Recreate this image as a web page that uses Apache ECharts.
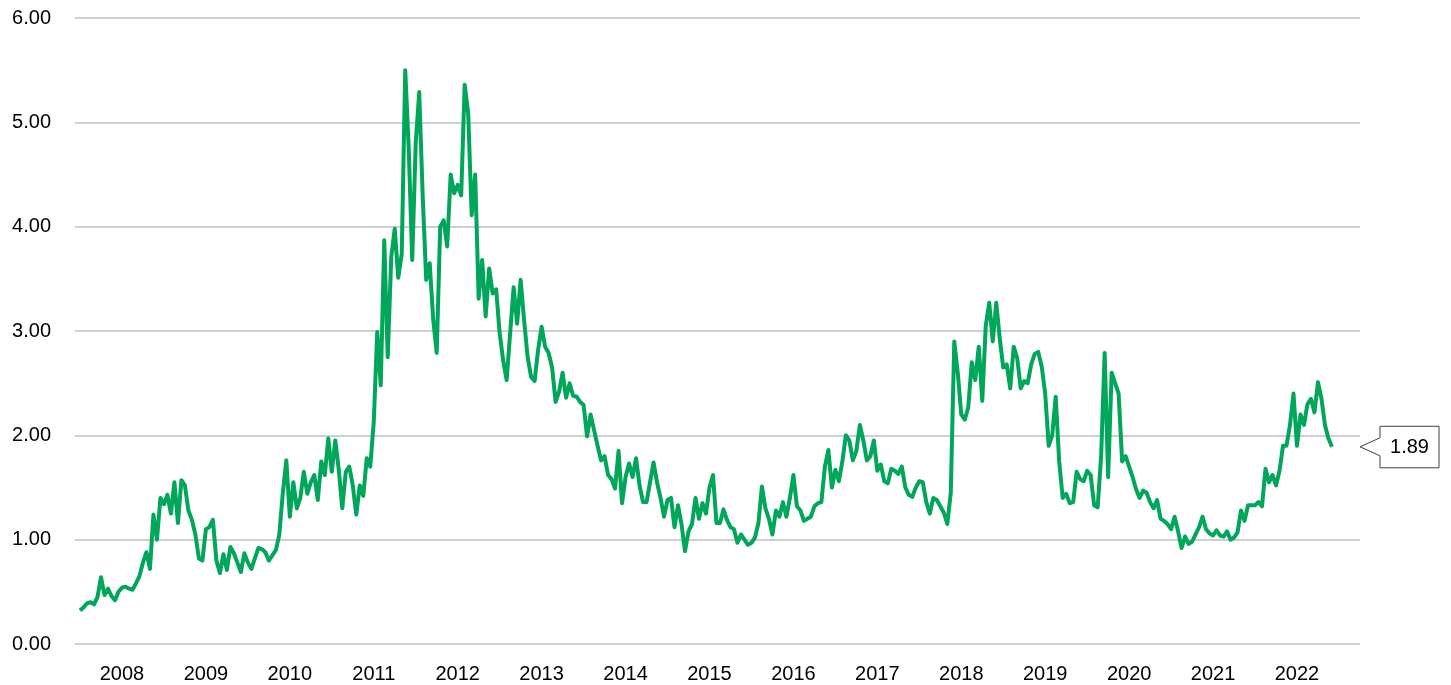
<!DOCTYPE html>
<html>
<head>
<meta charset="utf-8">
<script src="https://cdn.jsdelivr.net/npm/echarts@6/dist/echarts.min.js"></script>
<style>
  html, body { margin: 0; padding: 0; background: #fff; }
  .line .chart { width: 1451px; height: 685px; }
</style>
</head>
<body>
<div class="line"><div class="chart"></div></div>
<script>
// 年份（横轴标签）
var years = [2008, 2009, 2010, 2011, 2012, 2013, 2014, 2015, 2016, 2017, 2018, 2019, 2020, 2021, 2022];
// 纵轴刻度
var yTicks = [0, 1, 2, 3, 4, 5, 6];
// 每年 24 个半月数据点
var v2008 = [0.32, 0.35, 0.39, 0.40, 0.38, 0.45, 0.64, 0.47, 0.53, 0.46, 0.42, 0.50, 0.54, 0.55, 0.53, 0.52, 0.58, 0.65, 0.78, 0.88, 0.72, 1.24, 1.00, 1.40];
var v2009 = [1.34, 1.43, 1.25, 1.55, 1.16, 1.57, 1.52, 1.28, 1.19, 1.05, 0.82, 0.80, 1.10, 1.12, 1.19, 0.80, 0.68, 0.86, 0.71, 0.93, 0.87, 0.78, 0.69, 0.87];
var v2010 = [0.78, 0.72, 0.82, 0.92, 0.91, 0.88, 0.80, 0.85, 0.90, 1.05, 1.45, 1.76, 1.22, 1.55, 1.30, 1.40, 1.65, 1.44, 1.55, 1.62, 1.38, 1.75, 1.62, 1.97];
var v2011 = [1.65, 1.95, 1.67, 1.30, 1.65, 1.70, 1.52, 1.24, 1.52, 1.42, 1.78, 1.70, 2.13, 2.99, 2.48, 3.87, 2.75, 3.71, 3.98, 3.51, 3.74, 5.50, 4.75, 3.68];
var v2012 = [4.80, 5.29, 4.29, 3.49, 3.65, 3.11, 2.79, 4.00, 4.06, 3.81, 4.50, 4.32, 4.40, 4.30, 5.36, 5.09, 4.11, 4.50, 3.31, 3.68, 3.14, 3.60, 3.36, 3.40];
var v2013 = [2.98, 2.72, 2.53, 2.98, 3.42, 3.07, 3.49, 3.10, 2.75, 2.56, 2.52, 2.82, 3.04, 2.85, 2.79, 2.65, 2.32, 2.42, 2.60, 2.36, 2.50, 2.38, 2.37, 2.32];
var v2014 = [2.29, 1.99, 2.20, 2.05, 1.90, 1.76, 1.80, 1.62, 1.58, 1.49, 1.85, 1.35, 1.60, 1.73, 1.60, 1.78, 1.52, 1.36, 1.36, 1.55, 1.74, 1.55, 1.40, 1.22];
var v2015 = [1.38, 1.40, 1.12, 1.33, 1.15, 0.89, 1.08, 1.15, 1.40, 1.20, 1.35, 1.25, 1.50, 1.62, 1.16, 1.16, 1.29, 1.19, 1.12, 1.10, 0.97, 1.05, 1.00, 0.95];
var v2016 = [0.97, 1.02, 1.16, 1.51, 1.30, 1.20, 1.05, 1.28, 1.22, 1.36, 1.22, 1.40, 1.62, 1.32, 1.28, 1.18, 1.20, 1.22, 1.32, 1.35, 1.36, 1.70, 1.86, 1.50];
var v2017 = [1.67, 1.56, 1.75, 2.00, 1.95, 1.76, 1.85, 2.10, 1.95, 1.76, 1.80, 1.95, 1.66, 1.72, 1.56, 1.54, 1.68, 1.66, 1.63, 1.70, 1.50, 1.43, 1.41, 1.50];
var v2018 = [1.56, 1.55, 1.36, 1.25, 1.40, 1.38, 1.32, 1.26, 1.15, 1.45, 2.90, 2.60, 2.20, 2.15, 2.27, 2.70, 2.53, 2.85, 2.33, 3.05, 3.27, 2.90, 3.27, 2.93];
var v2019 = [2.65, 2.68, 2.45, 2.85, 2.74, 2.45, 2.52, 2.50, 2.68, 2.78, 2.80, 2.66, 2.40, 1.90, 2.00, 2.37, 1.75, 1.40, 1.44, 1.35, 1.36, 1.65, 1.58, 1.56];
var v2020 = [1.66, 1.62, 1.33, 1.31, 1.80, 2.79, 1.60, 2.60, 2.50, 2.40, 1.75, 1.80, 1.70, 1.60, 1.48, 1.40, 1.47, 1.45, 1.36, 1.30, 1.38, 1.20, 1.18, 1.15];
var v2021 = [1.10, 1.22, 1.08, 0.92, 1.03, 0.96, 0.98, 1.05, 1.12, 1.22, 1.10, 1.06, 1.04, 1.09, 1.04, 1.03, 1.08, 1.00, 1.02, 1.07, 1.28, 1.18, 1.33, 1.33];
var v2022 = [1.33, 1.36, 1.32, 1.68, 1.55, 1.62, 1.52, 1.66, 1.90, 1.90, 2.10, 2.40, 1.90, 2.20, 2.10, 2.30, 2.35, 2.22, 2.51, 2.35, 2.10, 1.97, 1.89];

(function() {
  var myChart = echarts.init(document.querySelector(".line .chart"));
  var font = "'Liberation Sans', Arial, sans-serif";

  // 拼成 [年份, 数值]
  var yearValues = [v2008, v2009, v2010, v2011, v2012, v2013, v2014, v2015, v2016, v2017, v2018, v2019, v2020, v2021, v2022];
  var seriesData = [];
  yearValues.forEach(function(arr, k) {
    arr.forEach(function(v, j) {
      seriesData.push([years[k] + j / 24, v]);
    });
  });
  var lastValue = seriesData[seriesData.length - 1][1];

  var xMin = 2007.9404;
  var xMax = 2023.2508;

  var option = {
    animation: false,
    grid: {
      left: 75,
      right: 91,
      top: 18,
      bottom: 41
    },
    xAxis: {
      type: "value",
      min: xMin,
      max: xMax,
      splitLine: { show: false },
      axisLine: { show: false },
      axisTick: { show: false },
      axisLabel: {
        // 标签放在每年的中间
        customValues: years.map(function(y) { return y + 0.5; }),
        formatter: function(v) { return String(Math.floor(v)); },
        color: "#000",
        fontSize: 20,
        fontFamily: font,
        margin: 20
      }
    },
    yAxis: {
      type: "value",
      min: yTicks[0],
      max: yTicks[yTicks.length - 1],
      interval: 1,
      axisLine: { show: false },
      axisTick: { show: false },
      axisLabel: {
        formatter: function(v) { return v.toFixed(2); },
        color: "#000",
        fontSize: 20,
        fontFamily: font,
        margin: 24
      },
      splitLine: {
        lineStyle: {
          color: "#bfbfbf",
          width: 1.5
        }
      }
    },
    series: [
      {
        type: "line",
        data: seriesData,
        showSymbol: false,
        symbol: "none",
        lineStyle: {
          color: "#00a65a",
          width: 4,
          join: "round"
        }
      }
    ]
  };
  myChart.setOption(option);

  // 右侧最新值标注
  var tipX = myChart.convertToPixel({ xAxisIndex: 0 }, xMax);
  var tipY = myChart.convertToPixel({ yAxisIndex: 0 }, lastValue);
  myChart.setOption({
    graphic: [
      {
        type: "polygon",
        shape: {
          points: [
            [tipX, tipY],
            [tipX + 20, tipY - 9],
            [tipX + 20, tipY - 20.5],
            [tipX + 79, tipY - 20.5],
            [tipX + 79, tipY + 21],
            [tipX + 20, tipY + 21],
            [tipX + 20, tipY + 9]
          ]
        },
        style: { fill: "#fff", stroke: "#404040", lineWidth: 1 }
      },
      {
        type: "text",
        x: tipX + 49.5,
        y: tipY + 0.5,
        style: {
          text: lastValue.toFixed(2),
          fill: "#000",
          font: "20px " + font,
          align: "center",
          verticalAlign: "middle"
        }
      }
    ]
  });

  window.addEventListener("resize", function() {
    myChart.resize();
  });
})();
</script>
</body>
</html>
